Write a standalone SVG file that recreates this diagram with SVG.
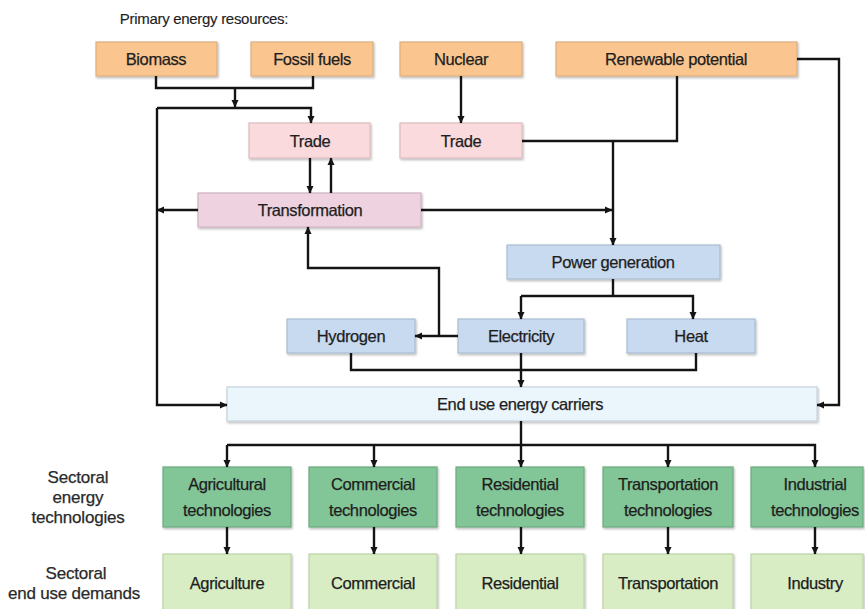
<svg xmlns="http://www.w3.org/2000/svg" width="865" height="609" viewBox="0 0 865 609">
<style>
text{font-family:"Liberation Sans",Arial,sans-serif;font-size:16.5px;fill:#1e1e1e;text-anchor:middle;dominant-baseline:central;letter-spacing:-0.4px;stroke:#1e1e1e;stroke-width:0.25px}
.lab{font-size:17px;fill:#2a2a2a;stroke:#2a2a2a;letter-spacing:-0.2px}
.box{stroke-width:1.2;filter:url(#sh)}
.or{fill:#FAC58F;stroke:#dcae80}
.pk{fill:#FADADD;stroke:#dcbcc0}
.tf{fill:#EED2E0;stroke:#cfb3c1}
.bl{fill:#C8DAEF;stroke:#abbdd1}
.eu{fill:#EBF5FC;stroke:#c6d2db}
.gt{fill:#82C596;stroke:#6ca97f}
.gd{fill:#D8EDC3;stroke:#bcd3a7}
.c path{fill:none;stroke:#141414;stroke-width:2.4}
.c path.a{marker-end:url(#ah)}
</style>
<defs>
<marker id="ah" markerUnits="userSpaceOnUse" markerWidth="8" markerHeight="8" refX="7" refY="4" orient="auto">
<path d="M0,0.5 L7.5,4 L0,7.5 z" fill="#141414"/>
</marker>
<filter id="sh" x="-5%" y="-10%" width="110%" height="130%">
<feDropShadow dx="1" dy="1.5" stdDeviation="0.8" flood-color="#000" flood-opacity="0.28"/>
</filter>
</defs>
<text x="204" y="18" style="font-size:15px;letter-spacing:-0.3px;stroke-width:0.15px">Primary energy resources:</text>

<g id="biomass"><rect class="box or" x="96" y="42" width="121" height="34"/><text x="156" y="59">Biomass</text></g>
<g id="fossil"><rect class="box or" x="251" y="42" width="122" height="34"/><text x="312" y="59">Fossil fuels</text></g>
<g id="nuclear"><rect class="box or" x="400" y="42" width="122" height="34"/><text x="461" y="59">Nuclear</text></g>
<g id="renewable"><rect class="box or" x="556" y="42" width="241" height="34"/><text x="676" y="59">Renewable potential</text></g>

<g id="trade1"><rect class="box pk" x="249" y="123" width="121" height="35"/><text x="310" y="141">Trade</text></g>
<g id="trade2"><rect class="box pk" x="400" y="123" width="122" height="35"/><text x="461" y="141">Trade</text></g>
<g id="transformation"><rect class="box tf" x="198" y="193" width="223" height="34"/><text x="310" y="210">Transformation</text></g>

<g id="power"><rect class="box bl" x="507" y="245" width="213" height="34"/><text x="613" y="262">Power generation</text></g>
<g id="hydrogen"><rect class="box bl" x="287" y="319" width="128" height="34"/><text x="351" y="336">Hydrogen</text></g>
<g id="electricity"><rect class="box bl" x="458" y="319" width="126" height="34"/><text x="521" y="336">Electricity</text></g>
<g id="heat"><rect class="box bl" x="627" y="319" width="128" height="34"/><text x="691" y="336">Heat</text></g>

<g id="enduse"><rect class="box eu" x="227" y="387" width="590" height="34"/><text x="520" y="404">End use energy carriers</text></g>

<g id="label-tech"><text class="lab" x="78" y="477">Sectoral</text><text class="lab" x="78" y="497">energy</text><text class="lab" x="78" y="517">technologies</text></g>
<g id="label-demand"><text class="lab" x="76" y="573">Sectoral</text><text class="lab" x="74" y="593">end use demands</text></g>

<g id="agtech"><rect class="box gt" x="163" y="467" width="128" height="60"/><text x="227" y="484">Agricultural</text><text x="227" y="510">technologies</text></g>
<g id="comtech"><rect class="box gt" x="309" y="467" width="128" height="60"/><text x="373" y="484">Commercial</text><text x="373" y="510">technologies</text></g>
<g id="restech"><rect class="box gt" x="456" y="467" width="128" height="60"/><text x="520" y="484">Residential</text><text x="520" y="510">technologies</text></g>
<g id="trtech"><rect class="box gt" x="603" y="467" width="130" height="60"/><text x="668" y="484">Transportation</text><text x="668" y="510">technologies</text></g>
<g id="indtech"><rect class="box gt" x="751" y="467" width="112" height="60"/><text x="815" y="484">Industrial</text><text x="815" y="510">technologies</text></g>

<g id="agdem"><rect class="box gd" x="163" y="554" width="128" height="64"/><text x="227" y="583">Agriculture</text></g>
<g id="comdem"><rect class="box gd" x="309" y="554" width="128" height="64"/><text x="373" y="583">Commercial</text></g>
<g id="resdem"><rect class="box gd" x="456" y="554" width="128" height="64"/><text x="520" y="583">Residential</text></g>
<g id="trdem"><rect class="box gd" x="603" y="554" width="130" height="64"/><text x="668" y="583">Transportation</text></g>
<g id="inddem"><rect class="box gd" x="751" y="554" width="112" height="64"/><text x="815" y="583">Industry</text></g>

<g id="connectors" class="c">
<path d="M156,76 V88 H313 V76"/>
<path class="a" d="M235,88 V107"/>
<path class="a" d="M157,108 H311 V123"/>
<path class="a" d="M157,108 V405 H227"/>
<path class="a" d="M310,158 V193"/>
<path class="a" d="M331,193 V158"/>
<path class="a" d="M198,210 H157"/>
<path class="a" d="M421,210 H612"/>
<path class="a" d="M461,76 V123"/>
<path d="M522,141 H677 V76"/>
<path class="a" d="M613,141 V245"/>
<path class="a" d="M797,59 H839 V405 H817"/>
<path d="M613,279 V296"/>
<path class="a" d="M521,296 H693 V319"/>
<path class="a" d="M521,296 V319"/>
<path class="a" d="M458,336 H415"/>
<path class="a" d="M439,336 V268 H308 V227"/>
<path d="M351,353 V370 H696 V353"/>
<path class="a" d="M521,353 V387"/>
<path d="M521,421 V445"/>
<path class="a" d="M227,445 V467"/>
<path class="a" d="M227,445 H815 V467"/>
<path class="a" d="M374,445 V467"/>
<path class="a" d="M521,445 V467"/>
<path class="a" d="M668,445 V467"/>
<path class="a" d="M227,527 V554"/>
<path class="a" d="M374,527 V554"/>
<path class="a" d="M521,527 V554"/>
<path class="a" d="M668,527 V554"/>
<path class="a" d="M815,527 V554"/>
</g>
</svg>
